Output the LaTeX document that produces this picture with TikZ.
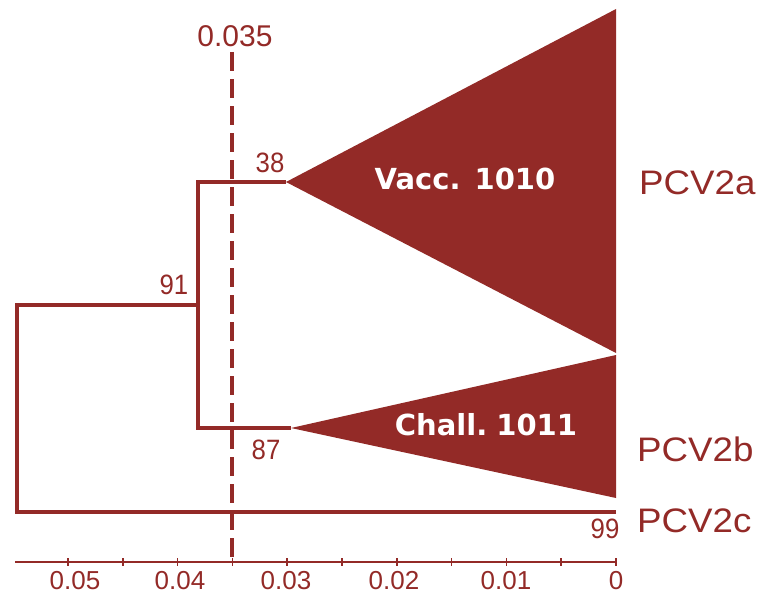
\documentclass[tikz,border=0pt]{standalone}
\usepackage{fontspec}
\setmainfont{Liberation Sans}
\newfontfamily\cladefont{DejaVu Sans}
\definecolor{tree}{HTML}{932A27}
\newcommand{\narrow}[1]{\scalebox{0.92}[1]{#1}}
\begin{document}
\begin{tikzpicture}[x=1pt,y=-1pt,
  branch/.style={draw=tree, line width=3.2pt, line join=miter},
  clade/.style={fill=tree, draw=none},
  cutoff/.style={draw=tree, line width=4pt, dash pattern=on 19pt off 8pt},
  axisline/.style={draw=tree, line width=2pt},
  tickmark/.style={draw=tree, line width=1.5pt},
  support/.style={text=tree, font=\fontsize{28}{28}\selectfont, inner sep=0pt},
  axislabel/.style={text=tree, font=\fontsize{26}{26}\selectfont, inner sep=0pt},
  groupname/.style={text=tree, font=\fontsize{34}{34}\selectfont, inner sep=0pt, anchor=west},
  cladename/.style={text=white, font=\cladefont\bfseries\fontsize{29}{29}\selectfont, inner sep=0pt}]
\useasboundingbox (0,0) rectangle (767,594);

% branch points of the tree
\coordinate (rootTop) at (17,305);
\coordinate (rootLow) at (17,512);
\coordinate (n91) at (198,305);
\coordinate (n91Top) at (198,182);
\coordinate (n91Low) at (198,428);
\coordinate (apexA) at (286,182);
\coordinate (apexB) at (291,428);
\coordinate (tipC) at (616,512);

% collapsed clades
\fill[clade] (apexA) -- (616,9) -- (616,353) -- cycle;
\fill[clade] (apexB) -- (616,355) -- (616,498) -- cycle;

% branches
\draw[branch] (tipC) -- (rootLow) -- (rootTop) -- (n91);
\draw[branch] (apexA) -- (n91Top) -- (n91Low) -- (apexB);

% scale axis
\coordinate (axL) at (15,562);
\coordinate (axR) at (616,562);
\draw[axisline] (axL) -- (axR);
\foreach \k in {0,...,10}
  \draw[tickmark] ({616-54.8*\k},558) -- ({616-54.8*\k},566);
\foreach \lx/\lt [count=\i] in {75/0.05,180/0.04,286/0.03,394/0.02,506/0.01,616/0}
  \node[axislabel] (ax\i) at (\lx,581) {\lt};

% cut-off line at 0.035
\coordinate (cutTop) at (232,52);
\coordinate (cutLow) at (232,561);
\draw[cutoff] (cutTop) -- (cutLow);
\node[text=tree, font=\fontsize{30}{30}\selectfont, inner sep=0pt] (cutlab) at (235,36) {0.035};

% bootstrap values
\node[support] (s38) at (270,163) {\narrow{38}};
\node[support] (s91) at (174,285) {\narrow{91}};
\node[support] (s87) at (266,450) {\narrow{87}};
\node[support] (s99) at (605,529) {\narrow{99}};

% clade labels
\node[cladename] (vacc) at (465,179) {Vacc.\hspace{14pt}1010};
\node[cladename] (chall) at (486,425) {Chall.\hspace{9pt}1011};

% genotype names
\node[groupname] (pa) at (639,183) {\scalebox{1.08}[1]{PCV2a}};
\node[groupname] (pb) at (637,449) {\scalebox{1.08}[1]{PCV2b}};
\node[groupname] (pc) at (637,521) {\scalebox{1.08}[1]{PCV2c}};
\end{tikzpicture}
\end{document}
